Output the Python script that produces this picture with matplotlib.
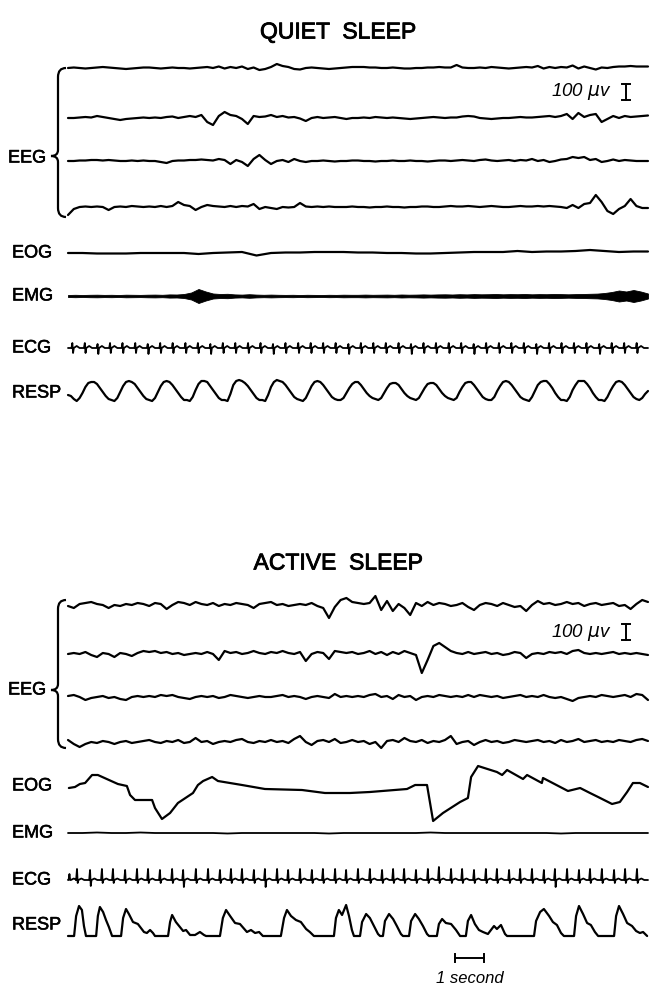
import numpy as np
import matplotlib.pyplot as plt
import matplotlib.patheffects as pe
from matplotlib.path import Path
from matplotlib.patches import PathPatch

plt.rcParams['font.family'] = ['Liberation Sans', 'DejaVu Sans']

# record length and time scale
DURATION = 20.0          # seconds shown per trace
PX_PER_S = 29.0          # paper speed (1 second bar)

# ---------------- QUIET SLEEP (pen deflection, up = positive) ----------------
quiet_eeg1 = [0, 0.5, 0, -0.5, 0, 0.5, 1, 0.5, 0, -0.5,
              -1, -0.5, 0, 0.5, 0.5, 0, -0.5, 0, 0.5, 0,
              0, -0.5, 0, 0.5, 1, 0, 1.5, -0.5, 1, 0,
              1.5, -1, 0.5, -2, -1, 1, 4, 2, 1, -1,
              -1.5, 0, 0.5, 0, -0.5, -1, -0.5, 0, 0.5, 1,
              1, 1, 0.5, 0.5, 0, 0, 0.5, 0, -0.5, -0.5,
              0, 0, 0.5, 0.5, 1, 0.5, 0.5, 3, 0.5, 0,
              0, 0.5, 0, 1, 0.5, 0, -0.5, 0, 0.5, 1,
              0.5, 2, -0.5, 1, 0, 1, 0.5, 2.5, -0.5, 1.5,
              0, -1.5, 0.5, 0, 1, 1.5, 1.5, 2, 1.5, 1.5,
              1.5]
quiet_eeg2 = [0, 0, 0.5, 1, 0.5, 2, 1, 0, -1, -2,
              -1, -0.5, 0, 0.5, 0, 0.5, 0, 1, 1.5, 0,
              1, 2, 1, 3, -4, -7, 2, 6, 3, 2,
              -1, -6, 2, 1, 1.5, 3, 1, 2, 0.5, 1,
              -0.5, -3, 0, 1, 0, 0.5, 1, 0, -1, 0,
              0, 0.5, 0, 1, 0.5, 0, 0.5, 0, -0.5, -1,
              -0.5, 0, 0.5, 1, 0.5, 0, 0.5, 0.5, 1.5, 2,
              1.5, 0, -0.5, -1, -0.5, 0, 0, 0.5, 1, 0.5,
              0.5, 1, 1.5, 2, 1, 2, 4, -1, 5, 1,
              3, 4, -4, -1, 2, 0, 2, 1, 1.5, 2,
              2.5]
quiet_eeg3 = [0, 0, 0.5, 0.5, 1, 1, 0.5, 1, 0.5, 0,
              0, 0.5, 0, 0.5, 0, 0, -1, -2, 0, 0.5,
              0.5, 1, 1, 1.5, 1, 0.5, 2, 1, -3, 1,
              -1, -5, 2, 6, 1, -3, 0, 1, -1, 2,
              0, -1, 0, 0, 0.5, 0, -0.5, 0, 0, 0.5,
              0.5, 0, 0, -0.5, 0, 0, 0.5, 0, 0, 0.5,
              0, 0, -0.5, 0, 0.5, 0.5, 0, 0.5, 1, 0.5,
              0, 1, 1.5, 0.5, 0, 0.5, 1, 0, 1, 0.5,
              2, 0, 1, -1, 0, 1.5, 2, 4, 3, 4,
              1, 2, -1, 0, 1.5, 0, 1, 0.5, 0, 0,
              0]
quiet_eeg4 = [-8, -2, 0, 0.5, 0, 0.5, 0, -3, 0, 0.5,
              0, 1, 0.5, 0, 0.5, 0, 1, 0, 1, 5,
              2, 1, -3, 0, 2, 1, 0.5, 0, 1, 0,
              1, 0.5, 3, -2, 0, -1, -2, 0, -0.5, 0,
              4, 0.5, 0, 0.5, 0, 0.5, 0, 0, 0, 0.5,
              0, 0, -0.5, 0, 0, 0.5, 0, 0, -0.5, 0,
              0, 0.5, 0.5, 0, 0, 0.5, 1, 0.5, 0.5, 1,
              0.5, 0, 0.5, 1, 0.5, 0, 0, 0.5, 1, 0.5,
              0.5, 1, 0.5, 1, 0.5, 0, -1, 2, -1, 3,
              4, 12, 5, -4, -7, -2, 1, 8, 1, -1,
              -1]
quiet_eog = [0, 0, -0.5, -0.5, -0.5, 0, 0, 0, 0, -1,
             0, 0.5, 1, -2.5, 0, 0.5, 0.5, 1, 1, 1,
             0.5, 0.5, 0, 0, -0.5, -0.5, 0, 0.5, 1, 1,
             1, 2, 1, 1.5, 1.5, 2, 3, 2, 1, 1.5,
             1.5]
# EMG drawn as its envelope (half width of the pen band)
quiet_emg_env = [1.0, 1.2, 1.0, 1.2, 1.3, 1.1, 1.2, 1.0, 1.3, 1.2,
                 1.1, 1.3, 1.4, 1.2, 1.6, 1.5, 2.0, 3.5, 7, 4.5,
                 2.5, 2.0, 2.2, 1.6, 1.4, 1.8, 1.4, 1.2, 1.4, 1.2,
                 1.1, 1.2, 1.0, 1.2, 1.1, 1.0, 1.2, 1.1, 1.3, 1.2,
                 1.2, 1.4, 1.2, 1.3, 1.4, 1.2, 1.5, 1.3, 1.4, 1.6,
                 1.4, 1.6, 1.7, 1.5, 1.8, 1.6, 1.9, 1.7, 1.8, 2.0,
                 1.7, 1.9, 1.8, 2.0, 1.7, 1.9, 1.8, 2.0, 1.9, 1.7,
                 1.9, 2.0, 2.2, 2.4, 3.0, 4.0, 5.5, 4.5, 6, 4.5,
                 2.5]
quiet_beats = [0.15, 0.58, 1.02, 1.45, 1.88, 2.32, 2.75, 3.18, 3.61, 4.05,
               4.48, 4.91, 5.34, 5.77, 6.21, 6.64, 7.07, 7.50, 7.94, 8.37,
               8.80, 9.23, 9.67, 10.10, 10.53, 10.96, 11.40, 11.83, 12.26, 12.69,
               13.13, 13.56, 13.99, 14.42, 14.86, 15.29, 15.72, 16.15, 16.59, 17.02,
               17.45, 17.88, 18.32, 18.75, 19.18, 19.61]
quiet_r = [5, 5, 4, 5, 5, 5, 4, 5, 5, 5, 5, 4, 5, 5, 5, 5, 4, 5, 5, 5, 5, 5, 4,
           5, 5, 5, 5, 4, 5, 5, 5, 5, 4, 5, 5, 5, 5, 4, 5, 5, 5, 5, 4, 5, 5, 5]
quiet_s = [5, 5, 6, 5, 5, 5, 6, 5, 5, 5, 5, 6, 5, 5, 5, 5, 6, 5, 5, 5, 5, 5, 6,
           5, 5, 5, 5, 6, 5, 5, 5, 5, 6, 5, 5, 5, 5, 6, 5, 5, 5, 5, 6, 5, 5, 5]
quiet_resp = [-4, -5, -8,
              -10, -7, -2, 4, 8, 9, 9, 7, 3, -1, -5, -8, -9,
              -10, -7, -1, 5, 9, 10, 9, 7, 3, -1, -5, -8, -9,
              -10, -7, -1, 5, 9, 10, 9, 6, 2, -2, -6, -9, -9,
              -10, -6, 1, 7, 10, 10, 9, 5, 1, -3, -7, -9, -9,
              -10, -3, 6, 10, 11, 10, 8, 5, 1, -3, -7, -9, -9,
              -10, -4, 4, 9, 11, 10, 9, 6, 2, -2, -6, -8, -9,
              -10, -7, -1, 5, 9, 10, 9, 6, 2, -2, -6, -8, -9,
              -9, -7, -2, 3, 7, 9, 9, 6, 2, -2, -5, -7, -8,
              -9, -7, -2, 3, 7, 8, 8, 6, 2, -2, -5, -7, -8,
              -9, -7, -2, 3, 7, 8, 8, 6, 2, -2, -5, -7, -8,
              -9, -7, -1, 4, 8, 9, 9, 6, 2, -2, -6, -8, -9,
              -9, -6, 0, 5, 9, 10, 9, 6, 2, -2, -6, -8, -9,
              -10, -6, 0, 6, 9, 10, 10, 7, 3, -2, -6, -9, -9,
              -10, -6, 1, 6, 10, 10, 10, 7, 3, -2, -6, -9, -9,
              -10, -6, 0, 5, 9, 10, 9, 6, 2, -2, -6, -8, -9,
              -7, -3, 0]

# ---------------- ACTIVE SLEEP ----------------
active_eeg1 = [-1, -3, 1, 2, 3, 1, 0, -3, 0, -1,
               1, 0, 2, 1, -1, 2, 1, -4, 0, 3,
               2, 0, 3, 1, 0, 2, -1, 1, 0, 2,
               1, 0, -3, 1, 2, 3, 0, 1, -1, 0,
               1, 0, 2, -1, -3, -13, -2, 5, 7, 3,
               2, 1, 2, 9, -5, 4, -6, 1, -3, -10,
               2, -1, 3, 0, 2, 1, -1, 0, 2, -2,
               -5, 0, 2, 1, -1, 2, 0, -2, -1, -6,
               0, 4, 1, 2, 0, 1, 3, 1, 2, -1,
               1, 2, 0, 1, 2, -1, 0, -4, 1, 5,
               3]
active_eeg2 = [0, 1, 0, 2, -1, -3, 1, 0, -3, 1,
               0, -2, 1, 3, 2, 3, 1, 2, 0, 1,
               -1, 0, 1, 0, 2, 0, -6, 3, 1, 2,
               0, 1, 3, 1, 0, 2, 1, 3, 1, 0,
               2, -7, 0, 2, 1, -5, 3, 2, 1, 2,
               0, 1, 3, 0, 2, -1, 2, 0, 3, 1,
               -1, -19, -6, 8, 11, 7, 3, 1, 0, 2,
               0, 1, 2, 0, 1, -1, 0, 2, 1, -4,
               0, 1, 0, 2, 1, 2, 0, 3, 4, 1,
               0, 1, 0, 1, 2, 0, 1, 0, 1, 0,
               -1]
active_eeg3 = [1, 2, 0, -3, -1, 0, 1, -1, 0, -2,
               -3, 0, 1, 0, 1, 0, 2, 1, 2, 0,
               -1, -2, 0, 1, 0, 1, -1, 0, 2, 1,
               0, -1, 0, 1, 0, 0, 1, 2, 0, 1,
               0, -2, 0, 1, 0, -1, 3, 0, 1, 0,
               1, 0, 2, 3, 0, 1, -2, 2, 0, 1,
               -3, 0, 1, 0, 2, 1, 0, 1, 0, 2,
               0, 2, 1, 0, 1, -1, 0, 1, 2, 0,
               1, 0, 2, 0, -1, 0, -2, -4, -1, 0,
               1, 0, 2, 1, 0, 1, 2, 0, 3, 2,
               -3]
active_eeg4 = [2, -2, -5, -2, 0, -1, 1, 0, -2, 0,
               1, -1, 0, 1, 2, 0, -1, 1, 0, 2,
               -1, 0, 4, 0, 1, -2, 0, 1, 0, 2,
               3, 0, -1, 1, 0, 2, 0, 1, -1, 3,
               6, 0, -3, 1, 2, 0, 3, -1, 0, 2,
               0, 1, -2, 0, -6, 1, 2, 0, 4, 1,
               0, 2, -1, 1, 0, 2, 6, -2, 0, 1,
               -3, 0, 2, 0, 1, -1, 0, 2, 1, 0,
               1, 2, 0, 1, -1, 2, 0, 1, 3, 0,
               1, 2, 0, 1, 0, 2, 1, 0, 2, 3,
               1]
# EOG: turning points (seconds, deflection)
active_eog_t = [0.03, 0.24, 0.41, 0.59, 0.83, 1.03, 1.72, 2.03, 2.14, 2.31,
                2.90, 3.00, 3.24, 3.52, 3.79, 4.31, 4.48, 4.66, 4.97, 5.17,
                6.00, 6.79, 8.07, 8.86, 9.72, 10.41, 11.69, 11.97, 12.38, 12.59,
                12.93, 13.52, 13.79, 13.90, 14.14, 14.79, 14.97, 15.14, 15.69, 15.83,
                16.34, 16.38, 17.24, 17.66, 18.00, 18.28, 18.76, 19.03, 19.28, 19.48,
                19.72, 20.0]
active_eog_v = [0, 1, 4, 5, 13, 13, 4, 2, -7, -12,
                -12, -20, -31, -25, -15, -5, 3, 7, 11, 7,
                3, -1, -2, -5, -5, -4, -1, 3, 3, -33,
                -25, -14, -10, 11, 22, 16, 13, 18, 9, 13,
                5, 10, -3, 0, -5, -9, -16, -14, -4, 5,
                5, 1]
active_emg = [0, 0, 0.5, 0, 0, 0.5, 0, 0, 0, 0,
              0, -0.5, 0, 0, 0, 0, 0, 0, -0.5, 0,
              0, 0, 0, 0, 0, 0.5, 0, 0, 0, 0,
              0, 0, 0, 0, -0.5, 0, 0, 0, 0, 0,
              0]
active_beats = [0.05, 0.31, 0.76, 1.17, 1.55, 1.97, 2.38, 2.76, 3.17, 3.59,
                3.97, 4.41, 4.83, 5.24, 5.62, 6.00, 6.41, 6.79, 7.21, 7.59,
                8.00, 8.41, 8.79, 9.21, 9.59, 10.00, 10.41, 10.83, 11.21, 11.59,
                12.00, 12.41, 12.79, 13.21, 13.59, 14.00, 14.41, 14.79, 15.21, 15.59,
                16.00, 16.41, 16.79, 17.21, 17.62, 18.00, 18.41, 18.83, 19.21, 19.62]
active_r = [6, 11, 10, 11, 11, 10, 11, 11, 10, 11, 10, 11, 11, 10, 11, 11, 10, 11, 11, 10,
            11, 10, 11, 11, 10, 11, 11, 10, 11, 11, 10, 11, 13, 11, 11, 10, 11, 11, 10, 11,
            11, 10, 11, 11, 10, 11, 11, 10, 11, 11]
active_s = [0, 3, 6, 3, 3, 3, 3, 3, 3, 3, 7, 3, 3, 3, 3, 3, 3, 7, 3, 3,
            3, 3, 3, 3, 3, 3, 3, 3, 3, 3, 3, 3, 3, 3, 3, 3, 3, 3, 3, 3,
            3, 3, 7, 3, 3, 3, 3, 3, 3, 3]
# RESP: turning points (seconds, deflection above the flat baseline)
active_resp_t = [0.00, 0.21, 0.28, 0.38, 0.48, 0.55, 0.62, 0.97, 1.03, 1.10,
                 1.21, 1.31, 1.41, 1.52, 1.83, 1.90, 2.00, 2.10, 2.24, 2.41,
                 2.62, 2.72, 2.83, 2.93, 3.00, 3.45, 3.52, 3.59, 3.72, 3.86,
                 3.97, 4.07, 4.21, 4.38, 4.55, 4.69, 4.76, 5.24, 5.34, 5.45,
                 5.59, 5.76, 5.93, 6.17, 6.31, 6.45, 6.59, 6.72, 7.34, 7.45,
                 7.55, 7.69, 7.86, 8.03, 8.21, 8.34, 8.48, 9.17, 9.24, 9.34,
                 9.45, 9.59, 9.69, 9.79, 9.86, 10.07, 10.14, 10.28, 10.41, 10.55,
                 10.69, 10.76, 10.86, 10.93, 11.07, 11.21, 11.34, 11.48, 11.55, 11.76,
                 11.83, 11.97, 12.10, 12.24, 12.38, 12.45, 12.72, 12.79, 12.90, 13.03,
                 13.21, 13.38, 13.52, 13.72, 13.79, 13.90, 14.03, 14.17, 14.31, 14.48,
                 14.69, 14.79, 14.93, 15.07, 15.14, 16.07, 16.14, 16.28, 16.41, 16.59,
                 16.72, 16.86, 17.00, 17.10, 17.45, 17.52, 17.62, 17.76, 17.90, 18.03,
                 18.17, 18.28, 18.83, 18.90, 19.00, 19.14, 19.28, 19.45, 19.59, 19.72,
                 19.83, 19.97]
active_resp_v = [0, 0, 20, 30, 26, 10, 0, 0, 20, 29,
                 24, 16, 9, 0, 0, 18, 27, 22, 14, 12,
                 4, 3, 6, 3, 0, 0, 14, 21, 14, 9,
                 5, 6, 1, 1, 4, 1, 0, 0, 18, 26,
                 20, 13, 12, 4, 6, 3, 4, 0, 0, 18,
                 26, 20, 16, 14, 7, 4, 0, 0, 18, 26,
                 21, 31, 20, 6, 0, 0, 14, 22, 18, 10,
                 2, 0, 0, 15, 22, 17, 10, 2, 0, 0,
                 15, 22, 17, 10, 2, 0, 0, 12, 17, 13,
                 12, 6, 0, 0, 15, 21, 12, 6, 4, 2,
                 10, 7, 11, 2, 0, 0, 15, 24, 27, 20,
                 14, 11, 3, 0, 0, 20, 30, 22, 13, 11,
                 4, 0, 0, 20, 30, 22, 13, 10, 5, 3,
                 4, 0]

# ---------------- drawing ----------------
X0 = 68
fig = plt.figure(figsize=(6.55, 9.88), dpi=100)
ax = fig.add_axes([0, 0, 1, 1])
ax.set_xlim(0, 655)
ax.set_ylim(988, 0)
ax.axis('off')

LW = 1.6
HEAVY = [pe.withStroke(linewidth=0.4, foreground='black')]


def trace(vals, base, times=None, lw=LW):
    vals = np.asarray(vals, dtype=float)
    if times is None:
        times = np.linspace(0, DURATION, len(vals))
    ax.plot(X0 + PX_PER_S * np.asarray(times), base - vals, color='black',
            lw=lw, solid_joinstyle='round', solid_capstyle='round')


def ecg(beats, r_amp, s_amp, base, t_amp):
    t, v = [0.0], [0.0]
    for tb, r, s in zip(beats, r_amp, s_amp):
        t += [tb - 0.03, tb, tb + 0.025, tb + 0.05, tb + 0.15, tb + 0.25]
        v += [0, r, -s, 0, t_amp, 0]
    t.append(DURATION)
    v.append(0)
    keep = [(a, b) for a, b in zip(t, v) if 0 <= a <= DURATION]
    trace([b for a, b in keep], base, [a for a, b in keep], lw=1.3)


def brace(y_top, y_tip, y_bot, x_end=66, x_sp=58, x_tip=51):
    verts = [(x_end, y_top), (x_sp, y_top), (x_sp, y_top + 9),
             (x_sp, y_tip - 6), (x_sp, y_tip), (x_tip, y_tip),
             (x_sp, y_tip), (x_sp, y_tip + 6),
             (x_sp, y_bot - 9), (x_sp, y_bot), (x_end, y_bot)]
    codes = [Path.MOVETO, Path.CURVE3, Path.CURVE3, Path.LINETO,
             Path.CURVE3, Path.CURVE3, Path.CURVE3, Path.CURVE3,
             Path.LINETO, Path.CURVE3, Path.CURVE3]
    ax.add_patch(PathPatch(Path(verts, codes), fill=False, lw=LW, ec='black'))


def calib(y_text, y0, y1):
    ax.text(612, y_text, '100 $\\mu$v', fontsize=13.5, style='italic',
            ha='right', va='center')
    ax.plot([626, 626], [y0, y1], color='black', lw=1.4)
    ax.plot([622, 630], [y0, y0], color='black', lw=1.4)
    ax.plot([622, 630], [y1, y1], color='black', lw=1.4)


def label(txt, y, x=12):
    ax.text(x, y, txt, fontsize=13, ha='left', va='center', path_effects=HEAVY)


TITLE_FX = [pe.withStroke(linewidth=0.6, foreground='black')]

# quiet sleep
ax.text(338, 32, 'QUIET  SLEEP', fontsize=16.5, ha='center', va='center',
        path_effects=TITLE_FX)
for vals, base in zip([quiet_eeg1, quiet_eeg2, quiet_eeg3, quiet_eeg4],
                      [68, 118, 161, 207]):
    trace(vals, base)
brace(68, 156, 217)
label('EEG', 158, x=8)
calib(91, 84, 100)
label('EOG', 253)
trace(quiet_eog, 253)
label('EMG', 296)
te = np.linspace(0, DURATION, len(quiet_emg_env))
env = np.asarray(quiet_emg_env)
ax.fill_between(X0 + PX_PER_S * te, 296 - env, 296 + env, color='black', lw=0.6)
label('ECG', 348)
ecg(quiet_beats, quiet_r, quiet_s, 348, 2.0)
label('RESP', 393)
trace(quiet_resp, 391)

# active sleep
ax.text(338, 563, 'ACTIVE  SLEEP', fontsize=16.5, ha='center', va='center',
        path_effects=TITLE_FX)
for vals, base in zip([active_eeg1, active_eeg2, active_eeg3, active_eeg4],
                      [605, 654, 697, 742]):
    trace(vals, base)
brace(600, 690, 748)
label('EEG', 690, x=8)
calib(632, 624, 640)
label('EOG', 786)
trace(active_eog_v, 788, active_eog_t)
label('EMG', 833)
trace(active_emg, 833, lw=1.3)
label('ECG', 880)
ecg(active_beats, active_r, active_s, 880, 1.5)
label('RESP', 925)
trace(active_resp_v, 936, active_resp_t)

# time calibration
tb0 = 13.35
xb = [X0 + PX_PER_S * tb0, X0 + PX_PER_S * (tb0 + 1)]
ax.plot(xb, [958, 958], color='black', lw=1.4)
ax.plot([xb[0], xb[0]], [954, 962], color='black', lw=1.4)
ax.plot([xb[1], xb[1]], [954, 962], color='black', lw=1.4)
ax.text(470, 978, '1 second', fontsize=12, style='italic', ha='center', va='center')

fig.savefig('out.png', dpi=100, facecolor='white')
